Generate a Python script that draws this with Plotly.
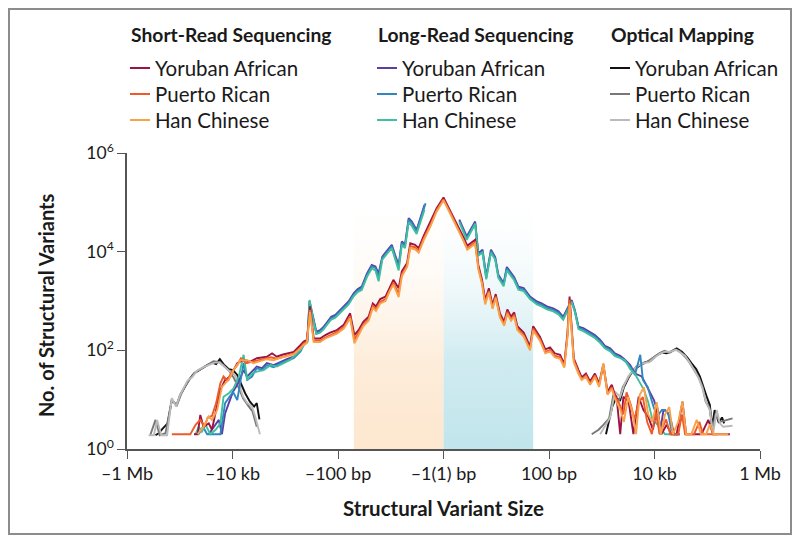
import plotly.graph_objects as go

# x: signed log10 of structural variant size (negative = deletion), y: log10 count
SR_YRI_X = [-4.73,-4.66,-4.61,-4.55,-4.45,-4.39,-4.23,-4.14,-4.04,-3.91,-3.79,-3.66,-3.54,-3.35,-3.25,-3.16,-3.06,-2.97,-2.84,-2.71,
            -2.65,-2.59,-2.53,-2.46,-2.34,-2.24,-2.15,-2.02,-1.89,-1.77,-1.69,-1.61,-1.52,-1.42,-1.34,-1.28,-1.20,-1.10,-1.02,-0.95,
            -0.85,-0.79,-0.69,-0.63,-0.54,-0.47,-0.38,-0.25,-0.13,0.00,
            0.13,0.25,0.38,0.45,0.60,0.66,0.73,0.79,0.86,0.93,0.99,1.07,1.15,1.21,1.28,1.34,1.40,1.52,1.64,1.70,1.83,1.93,2.02,2.11,
            2.21,2.29,2.35,2.39,2.43,2.47,2.56,2.62,2.70,2.78,2.87,2.95,3.03,3.11,3.19,3.25,
            3.28,3.35,3.41,3.51,3.60,3.70,3.79,3.88,3.97,4.05,4.13,4.23,4.32,4.42,4.53,4.60,4.89,5.02,5.11,5.43]
SR_YRI_LOGY = [0.30,0.30,0.69,0.45,0.52,0.39,1.20,1.40,1.47,1.74,1.81,1.77,1.84,1.87,1.94,1.87,1.91,1.94,1.97,2.11,
               2.18,2.21,2.89,2.24,2.24,2.31,2.36,2.41,2.52,2.75,2.31,2.41,2.58,2.68,2.95,2.89,3.04,3.09,3.29,3.43,
               3.26,3.60,3.77,4.17,4.14,4.07,4.31,4.59,4.88,5.10,
               4.83,4.56,4.29,4.12,4.24,3.73,3.43,3.02,3.26,2.92,3.14,2.75,2.58,2.83,2.68,2.77,2.49,2.36,2.08,2.49,2.27,2.02,2.06,1.94,
               1.91,1.72,2.35,3.09,2.48,1.84,1.60,1.45,1.53,1.37,1.53,1.33,1.72,1.16,1.30,1.10,
               1.06,0.30,1.06,0.96,0.30,1.06,0.79,0.66,0.39,0.86,0.30,0.49,0.30,0.30,0.96,0.30,0.30,0.59,0.30,0.30]

SR_PUR_X = [-5.15,-4.80,-4.70,-4.61,-4.53,-4.47,-4.39,-4.31,-4.23,-4.17,-4.10,-4.01,-3.91,-3.84,-3.74,-3.63,-3.52,-3.40,-3.27,-3.16,
            -3.04,-2.94,-2.83,-2.71,
            -2.65,-2.59,-2.53,-2.46,-2.34,-2.24,-2.15,-2.02,-1.89,-1.77,-1.69,-1.61,-1.52,-1.42,-1.34,-1.28,-1.20,-1.10,-1.02,-0.95,
            -0.85,-0.79,-0.69,-0.63,-0.54,-0.47,-0.38,-0.25,-0.13,0.00,
            0.13,0.25,0.38,0.45,0.60,0.66,0.73,0.79,0.86,0.93,0.99,1.07,1.15,1.21,1.28,1.34,1.40,1.52,1.64,1.70,1.83,1.93,2.02,2.11,
            2.21,2.29,2.35,2.39,2.43,2.47,2.56,2.62,2.70,2.78,2.87,2.95,3.03,3.11,3.19,3.25,
            3.32,3.41,3.47,3.55,3.62,3.70,3.78,3.86,3.95,4.02,4.10,4.22,4.30,4.45,4.52,4.58,4.75,4.85,4.92,5.20]
SR_PUR_LOGY = [0.30,0.30,0.49,0.59,0.45,0.64,0.67,0.93,1.33,1.47,1.39,1.57,1.70,1.84,1.74,1.77,1.79,1.82,1.86,1.83,
               1.87,1.90,1.94,2.06,
               2.14,2.18,2.82,2.20,2.20,2.26,2.31,2.37,2.47,2.69,2.22,2.35,2.52,2.63,2.90,2.84,2.98,3.04,3.23,3.37,
               3.15,3.54,3.72,4.11,4.09,4.01,4.26,4.54,4.84,5.06,
               4.79,4.52,4.25,4.07,4.19,3.68,3.38,2.97,3.20,2.87,3.09,2.70,2.53,2.78,2.63,2.72,2.44,2.31,2.03,2.44,2.22,1.97,2.01,1.89,
               1.86,1.68,2.30,3.02,2.42,1.80,1.56,1.41,1.49,1.33,1.49,1.29,1.68,1.12,1.25,1.06,
               0.95,0.70,1.15,0.90,0.60,0.95,1.05,0.55,0.30,0.75,0.30,0.60,0.30,0.30,0.70,0.30,0.30,0.55,0.30,0.30]

SR_CHS_X = [-4.66,-4.55,-4.45,-4.39,-4.29,-4.20,-4.14,-4.07,-3.98,-3.85,-3.72,-3.60,-3.48,-3.35,-3.22,-3.09,-2.97,-2.84,-2.71,
            -2.65,-2.59,-2.53,-2.46,-2.34,-2.24,-2.15,-2.02,-1.89,-1.77,-1.69,-1.61,-1.52,-1.42,-1.34,-1.28,-1.20,-1.10,-1.02,-0.95,
            -0.85,-0.79,-0.69,-0.63,-0.54,-0.47,-0.38,-0.25,-0.13,0.00,
            0.13,0.25,0.38,0.45,0.60,0.66,0.73,0.79,0.86,0.93,0.99,1.07,1.15,1.21,1.28,1.34,1.40,1.52,1.64,1.70,1.83,1.93,2.02,2.11,
            2.21,2.29,2.35,2.39,2.43,2.47,2.56,2.62,2.70,2.78,2.87,2.95,3.03,3.11,3.19,3.25,
            3.35,3.42,3.50,3.58,3.65,3.72,3.80,3.88,3.96,4.04,4.12,4.20,4.28,4.35,4.45,4.53,4.60,4.70,4.80,4.88,4.98,5.05,5.12,5.40]
SR_CHS_LOGY = [0.30,0.45,0.66,0.59,0.79,1.26,1.33,1.40,1.60,1.80,1.80,1.74,1.78,1.82,1.80,1.85,1.88,1.92,2.04,
               2.11,2.15,2.78,2.17,2.17,2.24,2.28,2.34,2.44,2.65,2.14,2.32,2.49,2.60,2.86,2.80,2.95,3.00,3.20,3.33,
               3.08,3.50,3.69,4.07,4.05,3.98,4.22,4.51,4.81,5.04,
               4.77,4.49,4.22,4.04,4.16,3.64,3.34,2.93,3.17,2.84,3.06,2.66,2.50,2.74,2.60,2.68,2.41,2.28,2.00,2.40,2.19,1.94,1.98,1.86,
               1.83,1.65,2.26,2.95,2.38,1.76,1.52,1.40,1.46,1.30,1.46,1.26,1.74,1.10,1.22,1.02,
               0.80,0.55,1.05,0.75,0.30,1.10,1.25,0.70,0.55,0.95,0.30,0.70,0.85,0.30,0.55,0.96,0.30,0.30,0.59,0.30,0.30,0.50,0.30,0.30]

LR_YRI_X = [-4.45,-4.32,-4.26,-4.20,-4.14,-4.07,-3.99,-3.91,-3.85,-3.79,-3.72,-3.63,-3.54,-3.44,-3.35,-3.22,-3.09,-2.97,-2.84,-2.71,
            -2.65,-2.58,-2.54,-2.47,-2.41,-2.34,-2.27,-2.20,-2.13,-2.05,-1.96,-1.88,-1.80,-1.70,-1.63,-1.55,-1.45,-1.36,-1.29,-1.23,
            -1.16,-1.07,-0.98,-0.92,-0.85,-0.79,-0.73,-0.66,-0.60,-0.51,-0.36,
            None,
            0.30,0.44,0.60,0.66,0.74,0.81,0.90,0.98,1.04,1.14,1.20,1.28,1.34,1.42,1.52,1.64,1.77,1.86,1.96,2.08,2.18,2.27,2.35,2.43,
            2.49,2.56,2.65,2.77,2.87,2.97,3.06,3.16,3.25,3.35,3.44,3.54,3.63,3.76,3.84,3.91,3.99,4.05,4.10,4.17,4.24,4.31,4.37,4.48]
LR_YRI_LOGY = [0.30,0.49,0.59,0.30,0.72,0.93,1.16,1.30,1.47,1.60,1.47,1.57,1.67,1.64,1.74,1.70,1.77,1.82,1.87,2.01,
               2.14,2.21,3.00,2.68,2.38,2.41,2.48,2.58,2.68,2.72,2.82,2.92,2.99,3.16,3.24,3.29,3.56,3.73,3.70,3.56,
               3.90,4.02,4.14,3.94,3.73,4.21,4.14,4.68,4.61,4.44,4.95,
               None,
               4.65,4.31,4.61,3.97,4.04,3.50,4.04,3.89,3.53,3.36,3.69,3.56,3.48,3.29,3.26,3.09,2.99,2.95,2.89,2.85,2.79,2.68,2.85,3.02,
               2.82,2.48,2.45,2.38,2.31,2.21,2.09,2.04,1.94,1.89,1.81,1.70,1.53,1.47,1.30,1.16,0.99,0.79,0.30,0.79,0.76,0.59,0.30,0.30]

LR_PUR_X = [-4.64,-4.56,-4.48,-4.23,-4.14,-4.07,-3.99,-3.91,-3.85,-3.79,-3.72,-3.63,-3.54,-3.44,-3.35,-3.22,-3.09,-2.97,-2.84,-2.71,
            -2.65,-2.58,-2.54,-2.47,-2.41,-2.34,-2.27,-2.20,-2.13,-2.05,-1.96,-1.88,-1.80,-1.70,-1.63,-1.55,-1.45,-1.36,-1.29,-1.23,
            -1.16,-1.07,-0.98,-0.92,-0.85,-0.79,-0.73,-0.66,-0.60,-0.51,-0.34,
            None,
            0.30,0.44,0.60,0.66,0.74,0.81,0.90,0.98,1.04,1.14,1.20,1.28,1.34,1.42,1.52,1.64,1.77,1.86,1.96,2.08,2.18,2.27,2.35,2.43,
            2.49,2.56,2.65,2.77,2.87,2.97,3.06,3.16,3.25,3.35,3.44,3.54,3.63,3.73,3.78,3.87,3.98,4.05,4.14,4.20,4.26,4.32,4.39,4.48]
LR_PUR_LOGY = [0.30,0.45,0.30,0.30,0.93,1.03,1.16,0.99,1.40,1.74,1.40,1.47,1.64,1.60,1.70,1.66,1.74,1.79,1.84,1.98,
               2.11,2.18,2.95,2.64,2.34,2.38,2.45,2.55,2.65,2.69,2.79,2.89,2.96,3.13,3.21,3.26,3.53,3.70,3.67,3.50,
               3.87,3.99,4.11,3.90,3.68,4.18,4.11,4.65,4.58,4.41,4.98,
               None,
               4.62,4.28,4.58,3.94,4.01,3.47,4.01,3.86,3.50,3.33,3.66,3.53,3.45,3.26,3.23,3.06,2.96,2.92,2.86,2.82,2.76,2.65,2.82,2.99,
               2.79,2.45,2.42,2.35,2.28,2.18,2.06,2.01,1.91,1.86,1.78,1.67,1.50,1.91,1.40,1.26,0.86,0.66,0.79,0.79,0.72,0.39,0.30,0.30]

LR_CHS_X = [-4.70,-4.64,-4.58,-4.51,-4.42,-4.32,-4.23,-4.17,-4.07,-3.98,-3.88,-3.79,-3.72,-3.63,-3.54,-3.41,-3.28,-3.16,-3.03,-2.90,-2.71,
            -2.65,-2.58,-2.54,-2.47,-2.41,-2.34,-2.27,-2.20,-2.13,-2.05,-1.96,-1.88,-1.80,-1.70,-1.63,-1.55,-1.45,-1.36,-1.29,-1.23,
            -1.16,-1.07,-0.98,-0.92,-0.85,-0.79,-0.73,-0.66,-0.60,-0.51,-0.36,
            None,
            0.30,0.44,0.60,0.66,0.74,0.81,0.90,0.98,1.04,1.14,1.20,1.28,1.34,1.42,1.52,1.64,1.77,1.86,1.96,2.08,2.18,2.27,2.35,2.43,
            2.49,2.56,2.65,2.77,2.87,2.97,3.06,3.16,3.25,3.35,3.44,3.54,3.63,3.72,3.80,3.88,3.96,4.05,4.12,4.20,4.45]
LR_CHS_LOGY = [0.30,0.45,0.35,0.49,0.30,0.39,0.52,1.06,1.13,1.23,1.47,1.91,1.40,1.53,1.57,1.60,1.70,1.67,1.74,1.81,2.01,
               2.10,2.17,3.02,2.62,2.33,2.36,2.43,2.53,2.62,2.66,2.76,2.86,2.93,3.10,3.18,3.22,3.49,3.66,3.62,3.40,
               3.84,3.96,4.07,3.86,3.62,4.14,4.07,4.60,4.52,4.36,4.85,
               None,
               4.60,4.24,4.56,3.92,3.98,3.44,3.98,3.84,3.47,3.30,3.62,3.50,3.42,3.23,3.20,3.04,2.93,2.89,2.83,2.79,2.73,2.62,2.80,2.98,
               2.78,2.43,2.39,2.32,2.25,2.15,2.04,1.98,1.88,1.84,1.80,1.62,1.52,1.35,1.20,0.95,0.60,0.50,0.42,0.30,0.30]

OM_YRI_X = [-5.46,-5.40,-5.32,-5.23,-5.15,-5.06,-4.99,-4.91,-4.82,-4.73,-4.61,-4.48,-4.39,-4.31,-4.24,-4.17,-4.07,-3.99,-3.91,-3.84,
            -3.76,-3.67,-3.59,-3.54,-3.49,
            None,
            3.08,3.14,3.20,3.27,3.35,3.42,3.51,3.60,3.69,3.80,3.92,4.03,4.13,4.23,4.32,4.42,4.52,4.62,4.70,4.79,4.86,4.94,5.00,5.05,
            5.09,5.14,5.22,5.28,5.32]
OM_YRI_LOGY = [0.28,0.32,0.42,0.52,0.99,0.89,1.10,1.26,1.41,1.53,1.62,1.70,1.75,1.72,1.82,1.72,1.62,1.60,1.50,1.33,
               1.13,0.96,0.86,0.93,0.60,
               None,
               0.30,0.59,0.86,1.03,0.99,1.25,1.45,1.60,1.66,1.75,1.78,1.89,1.95,1.94,1.98,2.04,1.97,1.86,1.74,1.62,1.47,1.20,1.03,0.89,
               0.45,0.79,0.53,0.64,0.52]

OM_PUR_X = [-5.56,-5.46,-5.38,-5.27,-5.15,-5.06,-4.97,-4.89,-4.80,-4.70,-4.57,-4.46,-4.36,-4.25,-4.17,-4.07,-3.98,-3.89,-3.80,-3.71,
            -3.62,-3.54,
            None,
            2.81,2.94,3.03,3.14,3.22,3.32,3.40,3.49,3.57,3.66,3.78,3.89,3.99,4.09,4.19,4.29,4.39,4.48,4.58,4.66,4.75,4.83,4.91,4.97,
            5.04,5.10,5.16,5.23,5.31,5.48]
OM_PUR_LOGY = [0.28,0.59,0.28,0.32,1.01,0.87,1.12,1.29,1.43,1.56,1.64,1.71,1.78,1.76,1.70,1.59,1.45,1.26,1.03,0.89,
               0.76,0.45,
               None,
               0.30,0.39,0.49,0.62,1.10,0.96,1.26,1.43,1.56,1.68,1.72,1.79,1.87,1.94,1.99,1.95,2.02,1.98,1.87,1.76,1.60,1.47,1.26,0.96,
               0.85,0.39,0.72,0.55,0.57,0.62]

OM_CHS_X = [-5.59,-5.49,-5.43,-5.35,-5.24,-5.15,-5.07,-5.00,-4.92,-4.85,-4.77,-4.67,-4.55,-4.43,-4.34,-4.24,-4.15,-4.05,-3.96,-3.88,
            -3.80,-3.72,-3.63,-3.57,-3.48,
            None,
            2.97,3.06,3.16,3.25,3.35,3.42,3.50,3.59,3.66,3.79,3.90,4.01,4.10,4.20,4.29,4.41,4.50,4.58,4.67,4.76,4.84,4.91,4.99,5.05,
            5.11,5.18,5.24,5.30,5.48]
OM_CHS_LOGY = [0.28,0.28,0.59,0.28,0.28,1.03,0.86,1.08,1.25,1.39,1.45,1.59,1.66,1.72,1.75,1.75,1.66,1.57,1.50,1.33,
               1.06,0.93,0.86,0.66,0.30,
               None,
               0.30,0.45,0.64,1.16,1.06,1.28,1.47,1.59,1.67,1.74,1.76,1.86,1.93,1.97,1.97,2.01,1.95,1.89,1.75,1.59,1.43,1.23,0.91,0.79,
               0.30,0.79,0.52,0.45,0.47]

# shaded size windows (< 50 bp)
SHADE_DEL_X = [-1.7, 0.0]
SHADE_INS_X = [0.0, 1.7]
SHADE_TOP = 2e5

X_TICKS = [-6, -4, -2, 0, 2, 4, 6]
X_TICK_LABELS = ["\u20131 Mb", "\u201310 kb", "\u2013100 bp", "\u20131(1) bp", "100 bp", "10 kb", "1 Mb"]
Y_TICKS = [1, 1e2, 1e4, 1e6]
Y_TICK_LABELS = ["10<sup>0</sup>", "10<sup>2</sup>", "10<sup>4</sup>", "10<sup>6</sup>"]

GROUPS = [
    ("Short-Read Sequencing", [("Yoruban African", SR_YRI_X, SR_YRI_LOGY, "#9c1542"),
                               ("Puerto Rican", SR_PUR_X, SR_PUR_LOGY, "#f05a2a"),
                               ("Han Chinese", SR_CHS_X, SR_CHS_LOGY, "#f9a24a")]),
    ("Long-Read Sequencing", [("Yoruban African", LR_YRI_X, LR_YRI_LOGY, "#5b3fa3"),
                              ("Puerto Rican", LR_PUR_X, LR_PUR_LOGY, "#2f86c3"),
                              ("Han Chinese", LR_CHS_X, LR_CHS_LOGY, "#3fbf9e")]),
    ("Optical Mapping", [("Yoruban African", OM_YRI_X, OM_YRI_LOGY, "#111111"),
                         ("Puerto Rican", OM_PUR_X, OM_PUR_LOGY, "#777777"),
                         ("Han Chinese", OM_CHS_X, OM_CHS_LOGY, "#bbbbbb")]),
]

FONT = "Lato"
TXT = "#1a1a1a"

fig = go.Figure()

# gradient shading
for xs, col in [(SHADE_DEL_X, "rgba(253,231,207,1)"), (SHADE_INS_X, "rgba(193,229,236,1)")]:
    fig.add_trace(go.Scatter(
        x=[xs[0], xs[1], xs[1], xs[0], xs[0]], y=[1, 1, SHADE_TOP, SHADE_TOP, 1],
        mode="lines", line=dict(width=0), fill="toself",
        fillgradient=dict(type="vertical", colorscale=[[0, col], [0.35, col.replace(",1)", ",0.75)")],
                                                       [1, "rgba(255,255,255,0)"]]),
        hoverinfo="skip", showlegend=False))

draw_order = [GROUPS[2], GROUPS[1], GROUPS[0]]
for gname, series in draw_order:
    for name, xs, ly, col in series:
        ys = [None if v is None else 10 ** v for v in ly]
        fig.add_trace(go.Scatter(x=xs, y=ys, mode="lines", name=f"{gname}: {name}",
                                 line=dict(color=col, width=1.9), connectgaps=False,
                                 showlegend=False))

# page has an 8px body margin: the figure is drawn at (8, 8) in the window
OFF = 8
W, H = 800 - 2 * OFF, 543 - 2 * OFF
# plot area in window pixels
PX0, PX1, PY0, PY1 = 127, 760, 153, 449
L, R, T, B = PX0 - OFF, W - (PX1 - OFF), PY0 - OFF, H - (PY1 - OFF)
pw, ph = PX1 - PX0, PY1 - PY0
def px2x(p):
    return (p - PX0) / pw
def py2y(p):
    return (PY1 - p) / ph

shapes = []
annotations = []
col_x = [130, 377, 610]
for (gname, series), cx in zip(GROUPS, col_x):
    annotations.append(dict(x=px2x(cx - 1), y=py2y(35), xref="paper", yref="paper", text=f"<b>{gname}</b>",
                            showarrow=False, xanchor="left", yanchor="middle",
                            font=dict(family=FONT, size=19.3, color=TXT)))
    for i, (name, xs, ly, col) in enumerate(series):
        yy = py2y(68 + 26 * i)
        shapes.append(dict(type="line", xref="paper", yref="paper", x0=px2x(cx), x1=px2x(cx + 20),
                           y0=yy, y1=yy, line=dict(color=col, width=2)))
        annotations.append(dict(x=px2x(cx + 23), y=yy, xref="paper", yref="paper", text=name,
                                showarrow=False, xanchor="left", yanchor="middle",
                                font=dict(family=FONT, size=20.5, color=TXT)))

annotations.append(dict(x=px2x(443), y=py2y(508), xref="paper", yref="paper", text="<b>Structural Variant Size</b>",
                        showarrow=False, xanchor="center", yanchor="middle",
                        font=dict(family=FONT, size=20.5, color=TXT)))
annotations.append(dict(x=px2x(46), y=py2y(305), xref="paper", yref="paper", text="<b>No. of Structural Variants</b>",
                        showarrow=False, xanchor="center", yanchor="middle", textangle=-90,
                        font=dict(family=FONT, size=20, color=TXT)))

# outer frame (at the figure edge)
shapes.append(dict(type="rect", xref="paper", yref="paper", x0=px2x(OFF + 1), x1=px2x(800 - OFF - 1),
                   y0=py2y(543 - OFF - 1), y1=py2y(OFF + 1),
                   line=dict(color="#8c8c8c", width=2), fillcolor="rgba(0,0,0,0)", layer="above"))

fig.update_layout(
    width=W, height=H, autosize=False,
    margin=dict(l=L, r=R, t=T, b=B, pad=0),
    paper_bgcolor="white", plot_bgcolor="white",
    font=dict(family=FONT, size=17, color=TXT),
    xaxis=dict(range=[-6, 6], tickvals=X_TICKS, ticktext=X_TICK_LABELS, ticks="outside", ticklen=8,
               tickcolor="#555", showline=True, linecolor="#555", linewidth=1.5, showgrid=False, zeroline=False,
               tickfont=dict(family=FONT, size=18, color=TXT)),
    yaxis=dict(type="log", range=[0, 6], tickvals=Y_TICKS, ticktext=Y_TICK_LABELS, ticks="outside", ticklen=8,
               tickcolor="#555", showline=True, linecolor="#555", linewidth=1.5, showgrid=False, zeroline=False,
               tickfont=dict(family=FONT, size=17.5, color=TXT)),
    shapes=shapes, annotations=annotations, showlegend=False,
)

fig.write_html("out.html")
